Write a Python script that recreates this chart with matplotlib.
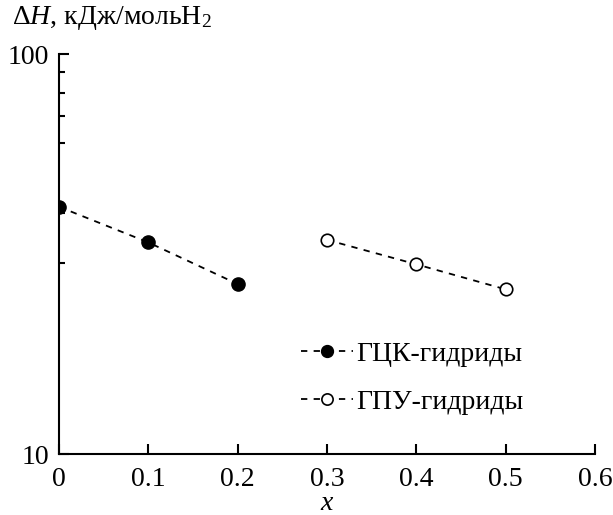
import matplotlib
matplotlib.use("Agg")
import matplotlib.pyplot as plt
from matplotlib.ticker import FixedLocator, NullFormatter

plt.rcParams['font.family'] = ['Liberation Serif', 'DejaVu Serif']
plt.rcParams['mathtext.fontset'] = 'custom'
plt.rcParams['mathtext.rm'] = 'Liberation Serif'
plt.rcParams['mathtext.it'] = 'Liberation Serif:italic'

# data
x_fcc = [0.0, 0.1, 0.2]
dh_fcc = [41.5, 33.8, 26.6]
x_hcp = [0.3, 0.4, 0.5]
dh_hcp = [34.3, 29.8, 25.8]
label_fcc = "ГЦК-гидриды"
label_hcp = "ГПУ-гидриды"
xticks = [0, 0.1, 0.2, 0.3, 0.4, 0.5, 0.6]
xtick_labels = ["0", "0.1", "0.2", "0.3", "0.4", "0.5", "0.6"]
yticks = [10, 100]
ytick_labels = ["10", "100"]
yminor = [30, 40, 60, 70, 80, 90]

fig = plt.figure(figsize=(6.13, 5.15), dpi=100)
ax = fig.add_axes([59 / 613, 1 - 454 / 515, (595 - 59) / 613, (454 - 54) / 515])

ax.plot(x_fcc, dh_fcc, color='black', lw=1.3, dashes=(3.5, 3.5),
        marker='o', ms=9.5, mfc='black', mec='black', label=label_fcc, zorder=3)
ax.plot(x_hcp, dh_hcp, color='black', lw=1.3, dashes=(3.5, 3.5),
        marker='o', ms=9, mfc='white', mec='black', mew=1.2, label=label_hcp, zorder=3)

ax.set_yscale('log')
ax.set_xlim(0, 0.6)
ax.set_ylim(10, 100)
ax.set_xticks(xticks)
ax.set_xticklabels(xtick_labels)
ax.set_yticks(yticks)
ax.set_yticklabels(ytick_labels)
ax.yaxis.set_minor_locator(FixedLocator(yminor))
ax.yaxis.set_minor_formatter(NullFormatter())
ax.xaxis.set_minor_locator(FixedLocator([]))

for s in ['top', 'right']:
    ax.spines[s].set_visible(False)
for s in ['left', 'bottom']:
    ax.spines[s].set_linewidth(1.5)

ax.tick_params(axis='both', which='major', direction='in', length=7, width=1.5,
               labelsize=20)
ax.tick_params(axis='x', which='major', pad=9)
ax.tick_params(axis='y', which='major', pad=7)
ax.tick_params(axis='y', which='minor', direction='in', length=4.5, width=1.5)

fig.text(12 / 613, 1 - 18 / 515, "Δ$H$, кДж/мольH$_2$", fontsize=20,
         ha='left', va='center')
ax.set_xlabel("$x$", fontsize=20, labelpad=0)

ax.legend(loc='upper left', bbox_to_anchor=(0.43, 0.31), frameon=False,
          fontsize=20, handlelength=1.9, handletextpad=0.1, labelspacing=0.82,
          markerscale=0.9, borderaxespad=0)

fig.savefig("out.png", dpi=100)
